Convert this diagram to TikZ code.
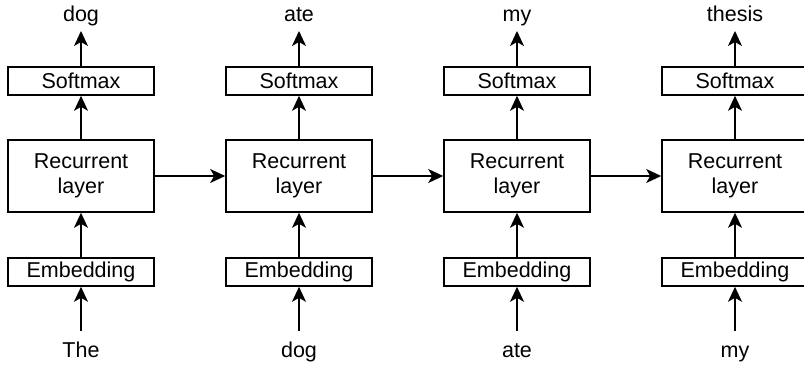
\documentclass[tikz,border=0pt]{standalone}
\usepackage{fontspec}
\setmainfont{Liberation Sans}
\usetikzlibrary{arrows.meta}
\begin{document}
\begin{tikzpicture}[x=1pt,y=-1pt,
  blk/.style={draw=black,line width=1.6pt,fill=white,minimum width=146pt,inner sep=0pt,align=center,font=\fontsize{21.5}{25}\selectfont},
  thin/.style={blk,minimum height=28pt},
  tall/.style={blk,minimum height=72pt},
  word/.style={inner sep=0pt,anchor=base,font=\fontsize{21.5}{25}\selectfont},
  conn/.style={line width=1.6pt,-{Stealth[length=15pt,width=14pt,inset=4pt]}}]
\useasboundingbox (0,0) rectangle (804,366);
\foreach \i/\cx/\inw/\outw in {1/81/The/dog,2/299/dog/ate,3/517/ate/my,4/735/my/thesis}{
  \node[thin] (sm\i) at (\cx,81) {Softmax};
  \node[tall] (rl\i) at (\cx,176) {Recurrent\\layer};
  \node[thin] (em\i) at (\cx,272) {Embedding};
  \node[word] (out\i) at (\cx,22) {\outw};
  \node[word] (in\i) at (\cx,357) {\inw};
  \coordinate (top\i) at (\cx,31);
  \coordinate (bot\i) at (\cx,331);
  \draw[conn] (sm\i.north) -- (top\i);
  \draw[conn] (rl\i.north) -- (sm\i.south);
  \draw[conn] (em\i.north) -- (rl\i.south);
  \draw[conn] (bot\i) -- (em\i.south);
}
\draw[conn] (rl1.east) -- (rl2.west);
\draw[conn] (rl2.east) -- (rl3.west);
\draw[conn] (rl3.east) -- (rl4.west);
\end{tikzpicture}
\end{document}
